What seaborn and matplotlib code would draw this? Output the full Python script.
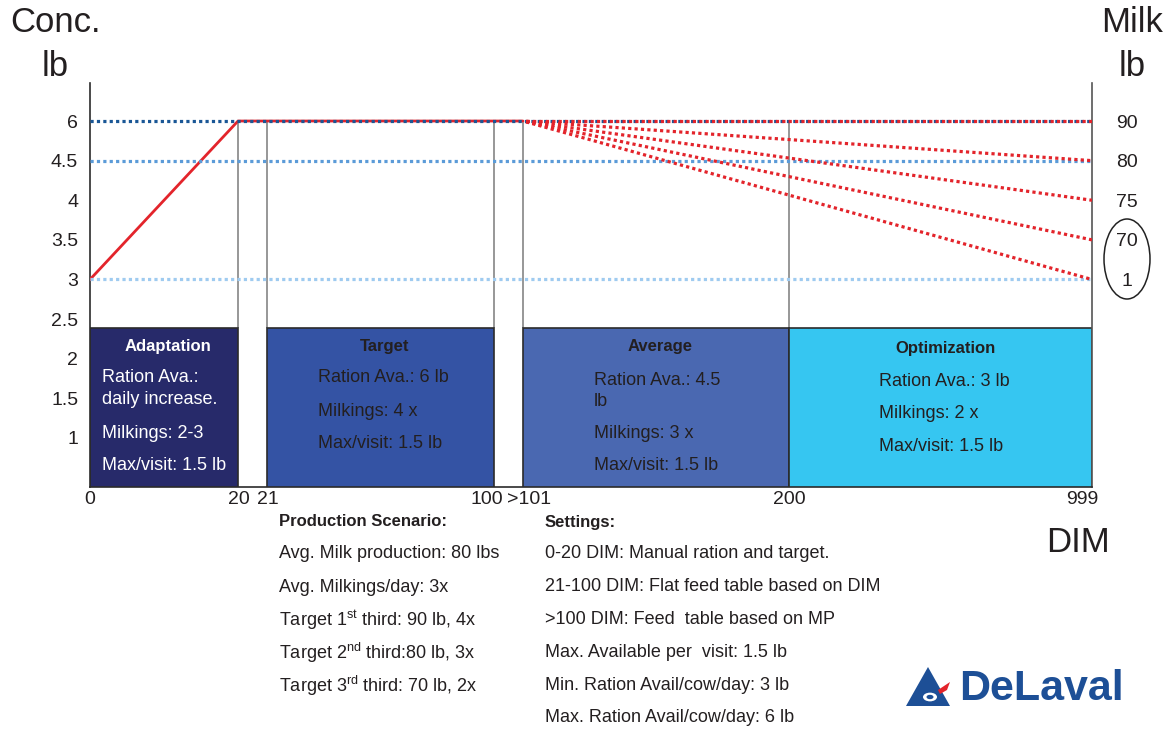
import numpy as np
import pandas as pd
import matplotlib
matplotlib.use("Agg")
import matplotlib.pyplot as plt
import matplotlib.transforms as mtransforms
import seaborn as sns
from matplotlib.patches import Ellipse, Polygon, Circle

# ---------------- data ----------------
dim_ticks = [0, 20, 21, 100, 101, 200, 999]
dim_tick_labels = ["0", "20", "21", "100", ">101", "200", "999"]
conc_ticks = [1, 1.5, 2, 2.5, 3, 3.5, 4, 4.5, 6]
conc_tick_labels = ["1", "1.5", "2", "2.5", "3", "3.5", "4", "4.5", "6"]
milk_tick_conc = [6, 4.5, 4, 3.5, 3]
milk_tick_labels = ["90", "80", "75", "70", "1"]

ramp_dim = [0, 20, 101]
ramp_conc = [3, 6, 6]
fan_start_dim = 101
fan_end_dim = 999
fan_end_conc = [6, 4.5, 4, 3.5, 3]
guide_conc = [6, 4.5, 3]

phase_names = ["Adaptation", "Target", "Average", "Optimization"]
phase_start = [0, 21, 101, 200]
phase_end = [20, 100, 200, 999]
phase_top = 2.39
phase_body = [
    ["Ration Ava.:", "daily increase.", "Milkings: 2-3", "Max/visit: 1.5 lb"],
    ["Ration Ava.: 6 lb", "Milkings: 4 x", "Max/visit: 1.5 lb"],
    ["Ration Ava.: 4.5", "lb", "Milkings: 3 x", "Max/visit: 1.5 lb"],
    ["Ration Ava.: 3 lb", "Milkings: 2 x", "Max/visit: 1.5 lb"],
]
vline_dims = [20, 21, 100, 101, 200]

scenario_title = "Production Scenario:"
scenario_lines = [
    "Avg. Milk production: 80 lbs",
    "Avg. Milkings/day: 3x",
    r"Target 1$^{\mathrm{st}}$ third: 90 lb, 4x",
    r"Target 2$^{\mathrm{nd}}$ third:80 lb, 3x",
    r"Target 3$^{\mathrm{rd}}$ third: 70 lb, 2x",
]
settings_title = "Settings:"
settings_lines = [
    "0-20 DIM: Manual ration and target.",
    "21-100 DIM: Flat feed table based on DIM",
    ">100 DIM: Feed  table based on MP",
    "Max. Available per  visit: 1.5 lb",
    "Min. Ration Avail/cow/day: 3 lb",
    "Max. Ration Avail/cow/day: 6 lb",
]

# ---------------- layout / style ----------------
W, H = 1172, 731
sns.set_theme(style="white")
plt.rcParams["font.family"] = ["Liberation Sans", "DejaVu Sans"]
plt.rcParams["mathtext.fontset"] = "custom"
plt.rcParams["mathtext.rm"] = "Liberation Sans"
plt.rcParams["mathtext.it"] = "Liberation Sans"
plt.rcParams["mathtext.bf"] = "Liberation Sans:bold"

TXT = "#231f20"
RED = "#e3242b"
BLUES = ["#1a5796", "#5b9bd8", "#9fcbf0"]
BOX_COLORS = ["#272a6a", "#3453a4", "#4a68b1", "#36c6f1"]
TITLE_COLORS = ["white", TXT, TXT, TXT]
BODY_COLORS = ["white", TXT, TXT, TXT]
XLABEL_SHIFT_PX = [0, 1, 1, -7, 6, 0, -10]

# piecewise axis scale (broken DIM axis, uneven concentrate axis)
dim_axis_px = [0, 148, 177, 404, 433, 699, 1002]
x_anchor = np.array([-100] + dim_ticks + [2000], dtype=float)
x_px = np.array([-740] + dim_axis_px + [1002 + 1001 * 303 / 799], dtype=float)
y_anchor = np.array([-10] + conc_ticks + [20], dtype=float)
y_slot = np.array([-21] + list(range(1, len(conc_ticks) + 1)) + [9 + 14 / 1.5], dtype=float)

def xf(v): return np.interp(v, x_anchor, x_px)
def xi(v): return np.interp(v, x_px, x_anchor)
def yf(v): return np.interp(v, y_anchor, y_slot)
def yi(v): return np.interp(v, y_slot, y_anchor)

fig = plt.figure(figsize=(W / 100, H / 100), dpi=100)
ax = fig.add_axes([90 / W, 1 - 487 / H, 1002 / W, 404 / H])
ax.set_xscale("function", functions=(xf, xi))
ax.set_yscale("function", functions=(yf, yi))

def ftext(x, y, s, **kw):
    kw.setdefault("va", "center")
    kw.setdefault("color", TXT)
    fig.text(x / W, 1 - y / H, s, **kw)

# phase boxes
for i, name in enumerate(phase_names):
    ax.bar(phase_start[i], phase_top, width=phase_end[i] - phase_start[i],
           bottom=0.0, align="edge", color=BOX_COLORS[i], edgecolor="#2b2b2b",
           linewidth=1.2, zorder=2)

# vertical separators
ax.vlines(vline_dims, phase_top, 6, color="#8f8f8f", lw=1.3, zorder=1)

# guide dotted lines
for c, col in zip(guide_conc, BLUES):
    ax.plot([0, 999], [c, c], color=col, lw=2.3, linestyle=(0, (1, 1)), zorder=4,
            solid_capstyle="butt")

# red ramp
sns.lineplot(x=ramp_dim, y=ramp_conc, color=RED, lw=2.0, ax=ax, sort=False,
             estimator=None, zorder=3)

# red fan lines
for v in fan_end_conc:
    sns.lineplot(x=[fan_start_dim, fan_end_dim], y=[6, v], color=RED, lw=2.3,
                 linestyle=(1, (1, 1)), ax=ax, sort=False, estimator=None, zorder=5)

ax.set_xlim(0, 999)
ax.set_ylim(0.381, 7.44)

ax.set_xticks(dim_ticks)
ax.set_xticklabels(dim_tick_labels, fontsize=14, color=TXT)
ax.set_yticks(conc_ticks)
ax.set_yticklabels(conc_tick_labels, fontsize=14, color=TXT)
ax.tick_params(axis="x", length=0, pad=3)
ax.tick_params(axis="y", length=0, pad=8.5)
ax.minorticks_off()
for lab, dx in zip(ax.get_xticklabels(), XLABEL_SHIFT_PX):
    lab.set_transform(lab.get_transform() +
                      mtransforms.ScaledTranslation(dx / 100, 0, fig.dpi_scale_trans))
ax.set_xlabel("")
ax.set_ylabel("")
ax.spines["top"].set_visible(False)
for sp in ["left", "right", "bottom"]:
    ax.spines[sp].set_visible(True)
    ax.spines[sp].set_color("#2b2b2b")
    ax.spines[sp].set_linewidth(1.2)
ax.spines["right"].set_color("#555555")
ax.grid(False)

# right axis (milk)
ax2 = ax.twinx()
ax2.set_yscale("function", functions=(yf, yi))
ax2.set_ylim(0.381, 7.44)
ax2.set_yticks(milk_tick_conc)
ax2.set_yticklabels(milk_tick_labels, fontsize=14, color=TXT)
ax2.minorticks_off()
for lab in ax2.get_yticklabels():
    lab.set_horizontalalignment("center")
ax2.tick_params(axis="y", length=0, pad=25)
for sp in ax2.spines.values():
    sp.set_visible(False)
ax2.grid(False)

fig.add_artist(Ellipse((1127 / W, 1 - 259 / H), 46 / W, 80 / H, transform=fig.transFigure,
                       fill=False, ec="#222222", lw=1.1))

# axis titles
ftext(55, 22, "Conc.", fontsize=25, ha="center")
ftext(55, 67, "lb", fontsize=25, ha="center")
ftext(1132, 22, "Milk", fontsize=25, ha="center")
ftext(1132, 67, "lb", fontsize=25, ha="center")
ftext(1078, 543, "DIM", fontsize=25, ha="center")

# box texts
title_pos = [(168, 346), (385, 346), (660, 347), (946, 349)]
body_x = [102, 318, 594, 879]
body_y = [[378, 400, 433, 465], [378, 411, 443], [380, 401, 434, 466], [382, 414, 447]]
for i, name in enumerate(phase_names):
    ftext(title_pos[i][0], title_pos[i][1], name, fontsize=12, fontweight="bold",
          ha="center", color=TITLE_COLORS[i])
    for s, yy in zip(phase_body[i], body_y[i]):
        ftext(body_x[i], yy, s, fontsize=13, ha="left", color=BODY_COLORS[i])

# lower text blocks
ftext(279, 522, scenario_title, fontsize=12, fontweight="bold", ha="left")
for k, s in enumerate(scenario_lines):
    ftext(279, 554 + 33 * k, s, fontsize=13, ha="left")
ftext(545, 522, settings_title, fontsize=12, fontweight="bold", ha="left")
for k, s in enumerate(settings_lines):
    ftext(545, 554 + 32.8 * k, s, fontsize=13, ha="left")

# logo
LOGO = "#1d4f96"
def fpt(x, y): return (x / W, 1 - y / H)
fig.add_artist(Polygon([fpt(906, 706), fpt(928, 667), fpt(950, 706)], closed=True,
                       transform=fig.transFigure, fc=LOGO, ec="none"))
fig.add_artist(Circle(fpt(930, 697), 7 / W, transform=fig.transFigure, fc="white", ec="none"))
fig.add_artist(Circle(fpt(930, 697), 3.5 / W, transform=fig.transFigure, fc=LOGO, ec="none"))
fig.add_artist(Polygon([fpt(938, 690), fpt(950, 682), fpt(947, 690), fpt(940, 694)], closed=True,
                       transform=fig.transFigure, fc=RED, ec="none"))
ftext(1041, 689, "DeLaval", fontsize=31, fontweight="bold", ha="center", color=LOGO)

fig.savefig("out.png", dpi=100)
